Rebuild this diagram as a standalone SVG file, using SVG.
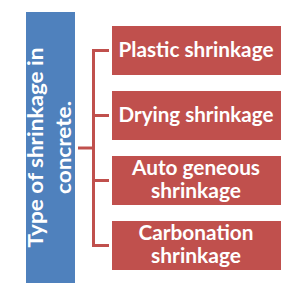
<svg xmlns="http://www.w3.org/2000/svg" width="307" height="300" viewBox="0 0 307 300">
<style>
.bg{fill:#ffffff}
.root{fill:#4F81BD}
.box{fill:#C0504D}
.t{fill:#ffffff;font-family:Lato,"Open Sans","Liberation Sans",sans-serif;font-weight:bold;text-anchor:middle}
.rt{font-size:21.5px}
.bt{font-size:20px}
.conn{fill:none;stroke:#C0504D;stroke-width:3}
</style>
<rect class="bg" x="0" y="0" width="307" height="300"/>
<g id="connectors">
<path class="conn" d="M78 148 H93.5"/>
<path class="conn" d="M109 50.5 H93.5 V245.5 H109"/>
<path class="conn" d="M93.5 115.5 H109"/>
<path class="conn" d="M93.5 180.5 H109"/>
</g>
<g id="root">
<rect class="root" x="26" y="12" width="49" height="271"/>
<text class="t rt" transform="rotate(-90)" x="-147.5" y="42.5" textLength="200" lengthAdjust="spacingAndGlyphs">Type of shrinkage in</text>
<text class="t rt" transform="rotate(-90)" x="-147.5" y="70.5" textLength="93" lengthAdjust="spacingAndGlyphs">concrete.</text>
</g>
<g id="plastic">
<rect class="box" x="112" y="26" width="169" height="49"/>
<text class="t bt" x="196" y="56.5" textLength="155" lengthAdjust="spacingAndGlyphs">Plastic shrinkage</text>
</g>
<g id="drying">
<rect class="box" x="112" y="91" width="169" height="49"/>
<text class="t bt" x="196" y="121.5" textLength="155" lengthAdjust="spacingAndGlyphs">Drying shrinkage</text>
</g>
<g id="autogeneous">
<rect class="box" x="112" y="156" width="169" height="49"/>
<text class="t bt" x="196" y="175" textLength="128" lengthAdjust="spacingAndGlyphs">Auto geneous</text>
<text class="t bt" x="196" y="198" textLength="90" lengthAdjust="spacingAndGlyphs">shrinkage</text>
</g>
<g id="carbonation">
<rect class="box" x="112" y="221" width="169" height="49"/>
<text class="t bt" x="196" y="240" textLength="115" lengthAdjust="spacingAndGlyphs">Carbonation</text>
<text class="t bt" x="196" y="263" textLength="90" lengthAdjust="spacingAndGlyphs">shrinkage</text>
</g>
</svg>
